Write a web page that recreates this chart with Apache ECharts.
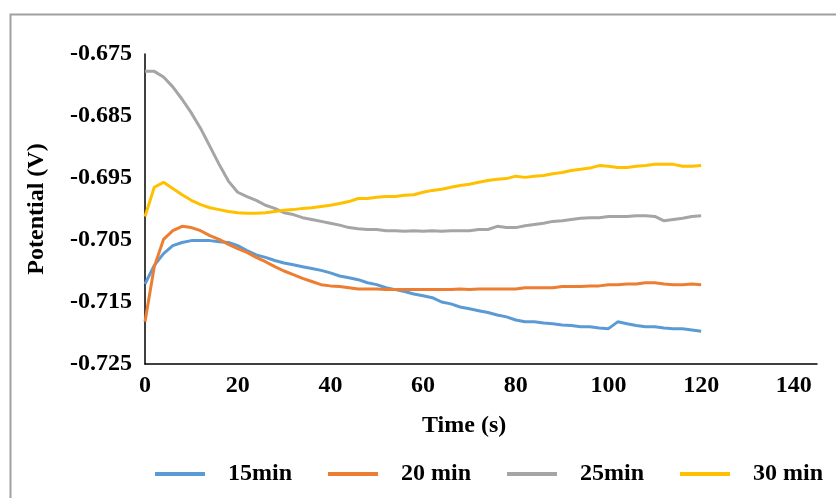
<!DOCTYPE html>
<html>
<head>
<meta charset="utf-8">
<script src="https://cdn.jsdelivr.net/npm/echarts@6/dist/echarts.min.js"></script>
<style>
  html, body { margin: 0; padding: 0; background: #fff; }
  #chart { width: 836px; height: 498px; }
</style>
</head>
<body>
<div id="chart"></div>
<script>
// time axis, every 2 s
const times = [];
for (let t = 0; t <= 120; t += 2) times.push(t);

const legendNames = ['15min', '20 min', '25min', '30 min'];

const pot15 = [
  -0.7121, -0.7091, -0.7072, -0.7059, -0.7054, -0.7051, -0.7051, -0.7051, -0.7053, -0.7054,
  -0.7059, -0.7067, -0.7074, -0.7078, -0.7083, -0.7087, -0.7090, -0.7093, -0.7096, -0.7099,
  -0.7103, -0.7108, -0.7111, -0.7114, -0.7119, -0.7122, -0.7127, -0.7130, -0.7133, -0.7137,
  -0.7140, -0.7143, -0.7150, -0.7153, -0.7158, -0.7161, -0.7164, -0.7167, -0.7171, -0.7174,
  -0.7179, -0.7182, -0.7182, -0.7184, -0.7185, -0.7187, -0.7188, -0.7190, -0.7190, -0.7192,
  -0.7193, -0.7182, -0.7185, -0.7188, -0.7190, -0.7190, -0.7192, -0.7193, -0.7193, -0.7195,
  -0.7197
];

const pot20 = [
  -0.7182, -0.7093, -0.7049, -0.7035, -0.7028, -0.7030, -0.7035, -0.7043, -0.7049, -0.7057,
  -0.7064, -0.7070, -0.7078, -0.7085, -0.7093, -0.7100, -0.7106, -0.7112, -0.7117, -0.7122,
  -0.7124, -0.7125, -0.7127, -0.7129, -0.7129, -0.7129, -0.7130, -0.7130, -0.7130, -0.7130,
  -0.7130, -0.7130, -0.7130, -0.7130, -0.7129, -0.7130, -0.7129, -0.7129, -0.7129, -0.7129,
  -0.7129, -0.7127, -0.7127, -0.7127, -0.7127, -0.7125, -0.7125, -0.7125, -0.7124, -0.7124,
  -0.7122, -0.7122, -0.7121, -0.7121, -0.7119, -0.7119, -0.7121, -0.7122, -0.7122, -0.7121,
  -0.7122
];

const pot25 = [
  -0.6778, -0.6778, -0.6787, -0.6803, -0.6823, -0.6845, -0.6870, -0.6899, -0.6928, -0.6955,
  -0.6973, -0.6980, -0.6986, -0.6994, -0.6999, -0.7006, -0.7009, -0.7014, -0.7017, -0.7020,
  -0.7023, -0.7026, -0.7030, -0.7032, -0.7033, -0.7033, -0.7035, -0.7035, -0.7036, -0.7035,
  -0.7036, -0.7035, -0.7036, -0.7035, -0.7035, -0.7035, -0.7033, -0.7033, -0.7028, -0.7030,
  -0.7030, -0.7027, -0.7025, -0.7023, -0.7020, -0.7019, -0.7017, -0.7015, -0.7014, -0.7014,
  -0.7012, -0.7012, -0.7012, -0.7011, -0.7011, -0.7012, -0.7019, -0.7017, -0.7015, -0.7012,
  -0.7011
];

const pot30 = [
  -0.7012, -0.6965, -0.6957, -0.6967, -0.6977, -0.6986, -0.6993, -0.6998, -0.7001, -0.7004,
  -0.7006, -0.7007, -0.7007, -0.7006, -0.7004, -0.7002, -0.7001, -0.6999, -0.6998, -0.6996,
  -0.6994, -0.6991, -0.6988, -0.6983, -0.6983, -0.6981, -0.6980, -0.6980, -0.6978, -0.6977,
  -0.6973, -0.6970, -0.6968, -0.6965, -0.6962, -0.6960, -0.6957, -0.6954, -0.6952, -0.6951,
  -0.6947, -0.6949, -0.6947, -0.6946, -0.6943, -0.6941, -0.6938, -0.6936, -0.6934, -0.6930,
  -0.6931, -0.6933, -0.6933, -0.6931, -0.6930, -0.6928, -0.6928, -0.6928, -0.6931, -0.6931,
  -0.6930
];

const colors = ['#5B9BD5', '#ED7D31', '#A5A5A5', '#FFC000'];
const font = "'Liberation Serif', 'Times New Roman', serif";
const fs = 24;

const chart = echarts.init(document.getElementById('chart'));

const mk = (name, vals, color) => ({
  name: name,
  type: 'line',
  showSymbol: false,
  data: times.map((t, i) => [t, vals[i]]),
  lineStyle: { color: color, width: 3 },
  itemStyle: { color: color },
  emphasis: { disabled: true }
});

const option = {
  animation: false,
  grid: { left: 145, right: 19, top: 54, bottom: 134 },
  xAxis: {
    type: 'value',
    min: 0,
    max: 145,
    interval: 20,
    axisLine: { lineStyle: { color: '#000', width: 1.5 } },
    axisTick: { show: false },
    splitLine: { show: false },
    axisLabel: {
      margin: 10,
      fontFamily: font,
      fontWeight: 'bold',
      fontSize: fs,
      color: '#000',
      formatter: v => (v % 20 === 0 ? String(v) : '')
    }
  },
  yAxis: {
    type: 'value',
    min: -0.725,
    max: -0.675,
    interval: 0.01,
    name: 'Potential (V)',
    nameLocation: 'middle',
    nameGap: 96,
    nameTextStyle: { fontFamily: font, fontWeight: 'bold', fontSize: fs, color: '#000' },
    axisLine: { show: true, lineStyle: { color: '#000', width: 1.5 } },
    axisTick: { show: false },
    splitLine: { show: false },
    axisLabel: {
      margin: 13,
      fontFamily: font,
      fontWeight: 'bold',
      fontSize: fs,
      color: '#000',
      formatter: v => v.toFixed(3)
    }
  },
  legend: {
    data: legendNames,
    left: 150,
    top: 457,
    icon: 'rect',
    itemWidth: 50,
    itemHeight: 4,
    itemGap: 36,
    textStyle: {
      fontFamily: font,
      fontWeight: 'bold',
      fontSize: fs,
      color: '#000',
      padding: [0, 0, 0, 18]
    }
  },
  graphic: [
    {
      type: 'rect',
      left: 8,
      top: 12,
      shape: { width: 900, height: 600 },
      style: { fill: 'none', stroke: '#a0a0a0', lineWidth: 2 },
      silent: true
    },
    {
      type: 'text',
      left: 422,
      top: 414,
      style: { text: 'Time (s)', font: 'bold ' + fs + 'px ' + font, fill: '#000' }
    }
  ],
  series: [
    mk(legendNames[0], pot15, colors[0]),
    mk(legendNames[1], pot20, colors[1]),
    mk(legendNames[2], pot25, colors[2]),
    mk(legendNames[3], pot30, colors[3])
  ]
};

chart.setOption(option);
</script>
</body>
</html>
